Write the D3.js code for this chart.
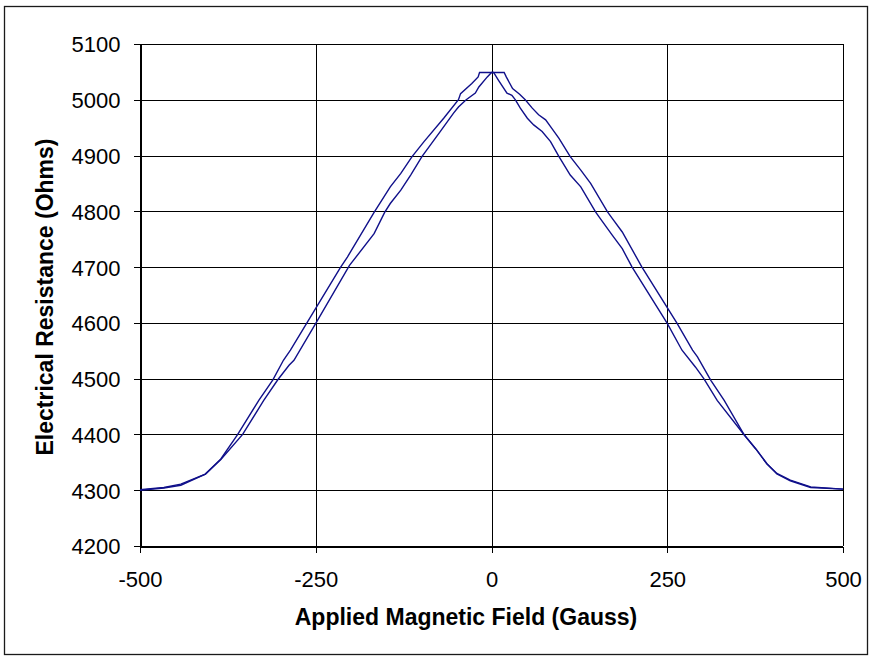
<!DOCTYPE html>
<html>
<head>
<meta charset="utf-8">
<script src="https://cdn.jsdelivr.net/npm/d3@7"></script>
<style>
  html, body { margin: 0; padding: 0; background: #fff; }
  svg { display: block; }
  text { font-family: "Liberation Sans", Arial, sans-serif; fill: #000; }
</style>
</head>
<body>
<svg id="chart" width="873" height="661"></svg>
<script>
// ---- Data ----
const xTicks = [-500, -250, 0, 250, 500];
const yTicks = [4200, 4300, 4400, 4500, 4600, 4700, 4800, 4900, 5000, 5100];

// Outer branch (field in Gauss, resistance in Ohms)
const outerField = [-500, -466, -442, -407, -385, -361, -331, -311, -296, -286, -263, -215, -205, -167, -144, -129, -113, -96, -68, -47, -44, -28, -19, -17,
  18, 21, 30, 40, 48, 58, 67, 77, 84, 96, 112, 127, 141, 165, 172, 186, 214, 264, 286, 293, 312, 331, 359, 376, 392, 406, 425, 454, 500];
const outerRes = [4301, 4305, 4311, 4329, 4356, 4400, 4461, 4498, 4533, 4551, 4599, 4699, 4718, 4798, 4844, 4868, 4898, 4925, 4967, 5000, 5011, 5029, 5041, 5049,
  5049, 5041, 5020, 5010, 5000, 4985, 4973, 4964, 4952, 4931, 4898, 4874, 4850, 4799, 4787, 4763, 4700, 4599, 4551, 4539, 4497, 4461, 4400, 4374, 4347, 4329, 4317, 4305, 4302];

// Inner branch
const innerField = [-500, -466, -442, -407, -385, -354, -324, -304, -288, -281, -250, -202, -167, -152, -144, -129, -115, -99, -73, -54, -47, -36, -23, -18, -6, 0,
  3, 10, 22, 29, 34, 41, 51, 60, 72, 84, 96, 112, 127, 148, 153, 172, 186, 200, 250, 271, 290, 302, 321, 359, 376, 392, 406, 425, 454, 500];
const innerRes = [4300, 4304, 4309, 4329, 4355, 4400, 4461, 4498, 4524, 4533, 4599, 4703, 4760, 4798, 4814, 4838, 4865, 4898, 4943, 4976, 4987, 5000, 5012, 5023, 5041, 5049,
  5049, 5035, 5012, 5008, 5000, 4985, 4967, 4955, 4943, 4925, 4898, 4865, 4844, 4799, 4790, 4757, 4733, 4700, 4599, 4551, 4521, 4500, 4461, 4400, 4374, 4347, 4330, 4318, 4306, 4302];

const xTitle = "Applied Magnetic Field (Gauss)";
const yTitle = "Electrical Resistance (Ohms)";

// ---- Layout ----
const svg = d3.select("#chart");
const L = 140, R = 843, T = 44, B = 546;

svg.append("rect").attr("x", 0).attr("y", 0).attr("width", 873).attr("height", 661).attr("fill", "#fff");
svg.append("rect").attr("x", 4.5).attr("y", 6.5).attr("width", 863).attr("height", 648)
  .attr("fill", "none").attr("stroke", "#1a1a1a").attr("stroke-width", 1.3);

const x = d3.scaleLinear().domain([-500, 500]).range([L, R]);
const y = d3.scaleLinear().domain([4200, 5100]).range([B, T]);

// gridlines
const grid = svg.append("g").attr("stroke", "#000").attr("stroke-width", 1).attr("shape-rendering", "crispEdges");
grid.selectAll(".h").data(yTicks).join("line")
  .attr("x1", L).attr("x2", R).attr("y1", d => Math.round(y(d)) + 0.5).attr("y2", d => Math.round(y(d)) + 0.5);
grid.selectAll(".v").data(xTicks).join("line")
  .attr("y1", T).attr("y2", B).attr("x1", d => Math.round(x(d)) + 0.5).attr("x2", d => Math.round(x(d)) + 0.5);

// axes
const yAxis = svg.append("g").attr("transform", `translate(${L + 0.5},0)`)
  .call(d3.axisLeft(y).tickValues(yTicks).tickSize(7).tickSizeOuter(0).tickPadding(13).tickFormat(d3.format("d")));
yAxis.select(".domain").attr("stroke", "#000").attr("shape-rendering", "crispEdges");
yAxis.selectAll(".tick line").attr("stroke", "#000").attr("shape-rendering", "crispEdges");
yAxis.selectAll(".tick text").attr("font-size", 22).attr("font-family", "Liberation Sans, Arial, sans-serif").attr("dy", "0.36em");

const xAxis = svg.append("g").attr("transform", `translate(0,${B + 0.5})`)
  .call(d3.axisBottom(x).tickValues(xTicks).tickSize(6).tickSizeOuter(0).tickFormat(d3.format("d")));
xAxis.select(".domain").attr("stroke", "#000").attr("shape-rendering", "crispEdges");
xAxis.selectAll(".tick line").attr("stroke", "#000").attr("shape-rendering", "crispEdges");
xAxis.selectAll(".tick text").attr("font-size", 22).attr("font-family", "Liberation Sans, Arial, sans-serif")
  .attr("y", 40).attr("dy", 0).text(d => d < 0 ? "-" + Math.abs(d) : String(d));

// lines
const line = d3.line().x(d => x(d[0])).y(d => y(d[1]));
const outer = outerField.map((f, i) => [f, outerRes[i]]);
const inner = innerField.map((f, i) => [f, innerRes[i]]);
svg.append("path").datum(outer).attr("d", line).attr("fill", "none").attr("stroke", "#10108a").attr("stroke-width", 1.4);
svg.append("path").datum(inner).attr("d", line).attr("fill", "none").attr("stroke", "#10108a").attr("stroke-width", 1.4);

// titles
svg.append("text").attr("x", 466).attr("y", 625).attr("text-anchor", "middle")
  .attr("font-size", 23).attr("font-weight", "bold").text(xTitle);
svg.append("text").attr("transform", "translate(53,297) rotate(-90)").attr("text-anchor", "middle")
  .attr("font-size", 23).attr("font-weight", "bold").text(yTitle);
</script>
</body>
</html>
